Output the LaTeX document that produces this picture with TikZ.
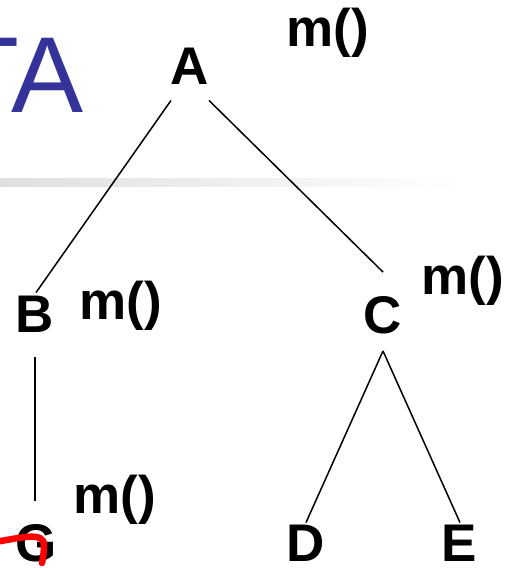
\documentclass[tikz,border=0pt]{standalone}
\usepackage{fontspec}
\setmainfont{Liberation Sans}
\definecolor{titleblue}{HTML}{333399}
\begin{document}
\begin{tikzpicture}[x=1pt,y=1pt,
  treenode/.style={inner sep=0pt, font=\fontsize{53}{60}\selectfont\bfseries},
  mlabel/.style={inner sep=0pt, font=\fontsize{53}{60}\selectfont\bfseries},
  edge/.style={line width=1.5pt},
  title/.style={inner sep=0pt, text=titleblue, font=\fontsize{108}{120}\selectfont}]
\useasboundingbox (0,0) rectangle (509,-568);
\clip (0,0) rectangle (509,-568);
% header bar and title
\shade[left color=gray!25, right color=white] (0,-178) rectangle (465,-186);
\node[title, anchor=base east] (title) at (83.5,-112) {TA};
% tree nodes
\node[treenode] (A) at (190,-66) {A};
\node[treenode] (B) at (35,-314) {B};
\node[treenode] (C) at (383,-315) {C};
\node[treenode] (G) at (36,-543) {G};
\node[treenode] (D) at (306,-543) {D};
\node[treenode] (E) at (459,-543) {E};
% labels
\node[mlabel] (mA) at (327.5,-32.5) {m()};
\node[mlabel] (mB) at (121,-306) {m()};
\node[mlabel] (mC) at (462.5,-281) {m()};
\node[mlabel] (mG) at (115,-500) {m()};
% edges
\draw[edge] ([xshift=-19pt,yshift=-16pt]A.south) -- ([xshift=1pt,yshift=3pt]B.north);
\draw[edge] ([xshift=19pt,yshift=-16pt]A.south) -- ([yshift=24pt]C.north);
\draw[edge] ([yshift=-25pt]B.south) -- ([xshift=-1pt,yshift=23pt]G.north);
\draw[edge] ([yshift=-17pt]C.south) -- ([yshift=2pt]D.north);
\draw[edge] ([yshift=-17pt]C.south) -- ([xshift=1pt,yshift=2pt]E.north);
% red pen stroke
\draw[red, line width=6.5pt, line cap=round]
  (-5,-542) .. controls (20,-538) and (44,-531) .. (44,-545)
  .. controls (44,-552) and (43,-558) .. (42,-563);
\end{tikzpicture}
\end{document}
